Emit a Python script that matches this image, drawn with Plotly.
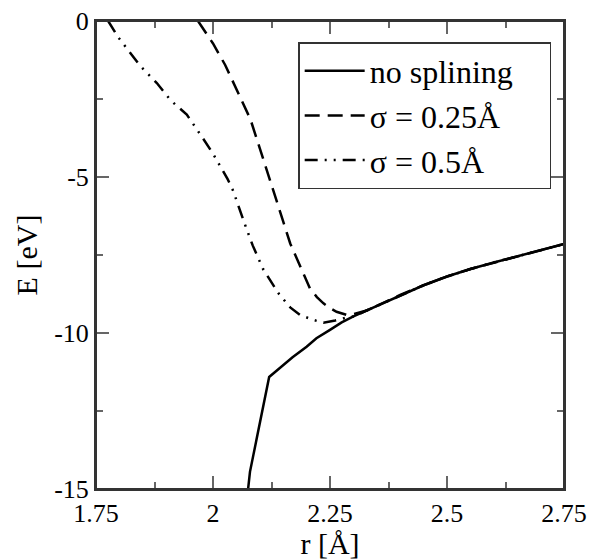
import plotly.graph_objects as go

# ---- data ----
r_nospl = [2.075, 2.079, 2.12, 2.143, 2.17, 2.2, 2.221, 2.25, 2.275, 2.3, 2.33,
           2.35, 2.378, 2.4, 2.45, 2.5, 2.55, 2.6, 2.65, 2.7, 2.75]
E_nospl = [-15.0, -14.45, -11.41, -11.12, -10.78, -10.44, -10.17, -9.90, -9.66, -9.47, -9.27,
           -9.13, -8.93, -8.78, -8.47, -8.19, -7.95, -7.74, -7.55, -7.35, -7.15]

r_s025 = [1.968, 2.0, 2.026, 2.054, 2.08, 2.10, 2.12, 2.14, 2.165, 2.193, 2.207, 2.222,
          2.236, 2.25, 2.264, 2.286, 2.30, 2.315, 2.33,
          2.35, 2.378, 2.4, 2.45, 2.5, 2.55, 2.6, 2.65, 2.7, 2.75]
E_s025 = [0.0, -0.72, -1.41, -2.32, -3.15, -4.08, -5.0, -5.95, -7.13, -8.09, -8.57, -8.85,
          -9.05, -9.2, -9.32, -9.42, -9.40, -9.33, -9.27,
          -9.13, -8.93, -8.78, -8.47, -8.19, -7.95, -7.74, -7.55, -7.35, -7.15]

r_s05 = [1.776, 1.798, 1.844, 1.88, 1.91, 1.944, 1.978, 2.0, 2.031, 2.043, 2.068, 2.085,
         2.107, 2.125, 2.14, 2.165, 2.186, 2.214, 2.236, 2.261, 2.286, 2.3, 2.33,
         2.35, 2.378, 2.4, 2.45, 2.5, 2.55, 2.6, 2.65, 2.7, 2.75]
E_s05 = [0.0, -0.53, -1.43, -1.99, -2.55, -3.0, -3.75, -4.25, -5.06, -5.44, -6.51, -7.2,
         -7.95, -8.4, -8.73, -9.18, -9.42, -9.58, -9.67, -9.60, -9.50, -9.47, -9.27,
         -9.13, -8.93, -8.78, -8.47, -8.19, -7.95, -7.74, -7.55, -7.35, -7.15]

names = ["no splining", "σ = 0.25Å", "σ = 0.5Å"]
x_ticks = [1.75, 2.0, 2.25, 2.5, 2.75]
x_tick_text = ["1.75", "2", "2.25", "2.5", "2.75"]
y_ticks = [0, -5, -10, -15]
y_tick_text = ["0", "-5", "-10", "-15"]

FONT = "Liberation Serif"

fig = go.Figure()
fig.add_trace(go.Scatter(x=r_nospl, y=E_nospl, mode="lines", name=names[0],
                         line=dict(color="black", width=2.5)))
fig.add_trace(go.Scatter(x=r_s025, y=E_s025, mode="lines", name=names[1],
                         line=dict(color="black", width=2.5, dash="15px,8px")))
fig.add_trace(go.Scatter(x=r_s05, y=E_s05, mode="lines", name=names[2],
                         line=dict(color="black", width=2.5, dash="13px,7px,2px,7px,2px,7px")))

axis_common = dict(
    showline=True, linecolor="#333", linewidth=2, mirror="ticks",
    ticks="inside", ticklen=13, tickwidth=1.5, tickcolor="#666",
    showgrid=False, zeroline=False, automargin=False,
    ticklabeloverflow="allow",
    tickfont=dict(family=FONT, size=26, color="black"),
)

fig.update_xaxes(range=[1.75, 2.75], tickvals=x_ticks, ticktext=x_tick_text,
                 minor=dict(dtick=0.125, tick0=1.75, ticks="inside", ticklen=7,
                            tickwidth=1.5, tickcolor="#666", showgrid=False),
                 title=dict(text="r [Å]", font=dict(family=FONT, size=30, color="black"),
                            standoff=2),
                 **axis_common)
fig.update_yaxes(range=[-15, 0], tickvals=y_ticks, ticktext=y_tick_text,
                 minor=dict(dtick=2.5, tick0=0, ticks="inside", ticklen=7,
                            tickwidth=1.5, tickcolor="#666", showgrid=False),
                 title=dict(text="E [eV]", font=dict(family=FONT, size=30, color="black"),
                            standoff=8),
                 **axis_common)

# plot frame (style only)
fig.add_shape(type="rect", xref="paper", yref="paper", x0=0, x1=1, y0=0, y1=1,
              line=dict(color="#333", width=2), fillcolor="rgba(0,0,0,0)", layer="above")

fig.update_layout(
    width=590, height=552,
    margin=dict(l=88, r=34, t=13, b=71),
    paper_bgcolor="white", plot_bgcolor="white",
    showlegend=True,
    legend=dict(orientation="h", x=0.432, y=0.955, xanchor="left", yanchor="top",
                font=dict(family=FONT, size=32, color="black"),
                bordercolor="#333", borderwidth=1.5, bgcolor="white",
                tracegroupgap=0, itemwidth=60, entrywidth=175),
)

fig.write_html("out.html")
